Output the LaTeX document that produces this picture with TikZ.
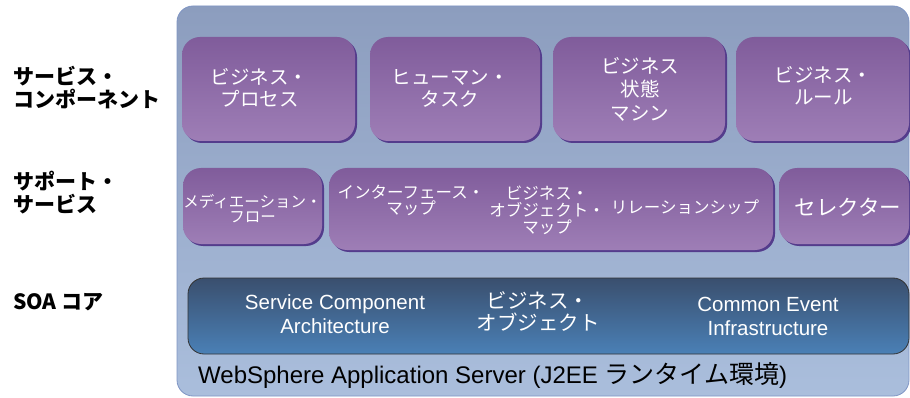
\documentclass[tikz,border=0pt]{standalone}
\usepackage{fontspec}
\setmainfont{Liberation Sans}
\newfontfamily\jp{Noto Sans CJK JP}
\usetikzlibrary{positioning,shadows}
\definecolor{capaarriba}{HTML}{8C9DBE}
\definecolor{capaabajo}{HTML}{AABEDC}
\definecolor{capaborde}{HTML}{7F95C4}
\definecolor{lilaarriba}{HTML}{805C9B}
\definecolor{lilaabajo}{HTML}{9E7EB6}
\definecolor{lilasombra}{HTML}{543C8C}
\definecolor{azularriba}{HTML}{3A4F6E}
\definecolor{azulabajo}{HTML}{4A80B6}
\tikzstyle{capa} = [draw=capaborde, line width=0.8pt, top color=capaarriba, bottom color=capaabajo, rounded corners=16pt, inner sep=0pt]
\tikzstyle{caja} = [top color=lilaarriba, bottom color=lilaabajo, rounded corners=18pt, inner sep=0pt,
  drop shadow={shadow xshift=2pt, shadow yshift=-2pt, fill=lilasombra, opacity=1}]
\tikzstyle{nucleo} = [draw=black!80, line width=0.8pt, top color=azularriba, bottom color=azulabajo, rounded corners=16pt, inner sep=0pt]
\tikzstyle{texto} = [text=white, align=center, inner sep=0pt]
\tikzstyle{etiqueta} = [text=black, align=left, anchor=west, inner sep=0pt, font=\jp\bfseries\fontsize{21}{23}\selectfont]

\begin{document}
\begin{tikzpicture}[x=1pt,y=-1pt]
  \useasboundingbox (0,0) rectangle (910,398);
  % capa exterior
  \node [capa, minimum width=732pt, minimum height=390pt] (servidor) at (543,201) {};
  \node [anchor=west, inner sep=0pt, font=\fontsize{24}{26}\selectfont] (was) at (198,376) {WebSphere Application Server (J2EE {\jp\fontsize{25}{26}\selectfont ランタイム環境})};
  % etiquetas de la izquierda
  \node [etiqueta] (lcomp) at (13,88) {サービス・\\コンポーネント};
  \node [etiqueta] (lsop) at (13,193) {サポート・\\サービス};
  \node [etiqueta] (lsoa) at (13,302) {SOA コア};
  % componentes
  \node [caja, minimum width=173pt, minimum height=104pt] (proceso) at (268.5,89) {};
  \node [caja, minimum width=170pt, minimum height=104pt] (tarea) at (455,89) {};
  \node [caja, minimum width=172pt, minimum height=104pt] (estado) at (639,89) {};
  \node [caja, minimum width=173pt, minimum height=104pt] (regla) at (822.5,89) {};
  \node [texto, font=\jp\fontsize{19.5}{22}\selectfont] at (proceso.center) [xshift=-9pt, yshift=1pt] {ビジネス・\\プロセス};
  \node [texto, font=\jp\fontsize{19.5}{22}\selectfont] at (tarea.center) [xshift=-5pt, yshift=1pt] {ヒューマン・\\タスク};
  \node [texto, font=\jp\fontsize{19.5}{23.5}\selectfont] at (estado.center) [xshift=1pt] {ビジネス\\状態\\マシン};
  \node [texto, font=\jp\fontsize{19.5}{22}\selectfont] at (regla.center) [xshift=1pt, yshift=3pt] {ビジネス・\\ルール};
  % servicios de soporte
  \node [caja, minimum width=139pt, minimum height=76pt] (mediacion) at (252.5,206) {};
  \node [caja, minimum width=444pt, minimum height=82pt] (interfaz) at (551,209) {};
  \node [caja, minimum width=130pt, minimum height=76pt] (selector) at (844,206) {};
  \node [texto, font=\jp\fontsize{15.5}{15}\selectfont] at (mediacion.center) [yshift=-3pt] {メディエーション・\\フロー};
  \node [texto, font=\jp\fontsize{16.5}{16}\selectfont] at (411,200.5) {インターフェース・\\マップ};
  \node [texto, font=\jp\fontsize{16.5}{17}\selectfont] at (547,210) {ビジネス・\\オブジェクト・\\マップ};
  \node [texto, font=\jp\fontsize{16.5}{17}\selectfont] at (685,207) {リレーションシップ};
  \node [texto, font=\jp\fontsize{21.5}{24}\selectfont] at (selector.center) [xshift=4pt, yshift=-1pt] {セレクター};
  % nucleo SOA
  \node [nucleo, minimum width=721pt, minimum height=76pt] (soa) at (548.5,316) {};
  \node [texto, font=\fontsize{20.5}{24}\selectfont] at (335,314) {Service Component\\Architecture};
  \node [texto, font=\jp\fontsize{20.5}{22}\selectfont] at (538,311.5) {ビジネス・\\オブジェクト};
  \node [texto, font=\fontsize{20.5}{24}\selectfont] at (768,316) {Common Event\\Infrastructure};
\end{tikzpicture}
\end{document}
